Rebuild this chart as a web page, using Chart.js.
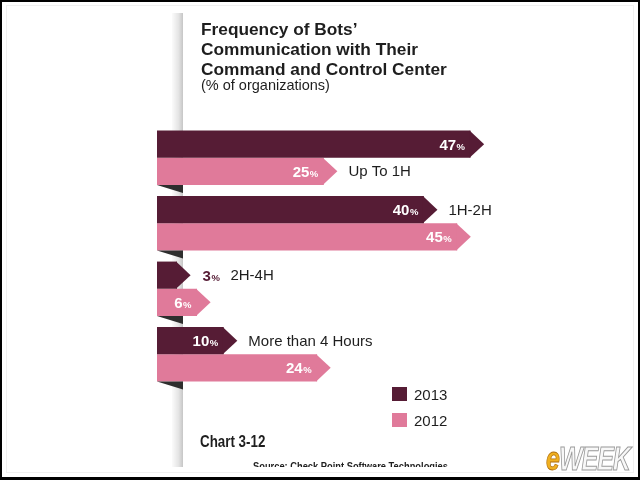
<!DOCTYPE html>
<html lang="en">
<head>
    <meta charset="UTF-8">
    <title>Frequency of Bots' Communication with Their Command and Control Center</title>
    <script src="https://cdn.jsdelivr.net/npm/chart.js"></script>
    <style>
        body { margin: 0; background: #fff; }
        #frame {
            position: relative; width: 640px; height: 480px; overflow: hidden;
            background: #fff; font-family: "Liberation Sans", Arial, sans-serif; color: #1e1e1e;
        }
        #frame .abs { position: absolute; white-space: nowrap; }
        #border {
            position: absolute; left: 0; top: 0; width: 636px; height: 475px;
            border: 2px solid #000; border-bottom-width: 3px;
        }
        #inner { position: absolute; left: 6px; top: 5px; width: 626px; height: 466px; border: 1px solid #f0f0f0; }
        #strip {
            position: absolute; left: 172px; top: 13px; width: 11px; height: 454px;
            background: linear-gradient(to right, #fbfbfb, #e4e4e4 60%, #c6c6c6);
        }
        #chart { position: absolute; left: 0; top: 0; }
        .title { font-weight: bold; font-size: 17.3px; line-height: 20px; left: 201px; top: 19px; }
        .sub { font-size: 14.5px; line-height: 17px; left: 201px; top: 77px; }
        .sw { width: 15px; height: 14px; }
        .lg { font-size: 15px; line-height: 17px; }
        .note { font-weight: bold; transform: scaleX(0.81); transform-origin: left top; }
        #logo {
            left: 546px; top: 440px; font-size: 25px; font-weight: 900; font-style: italic;
            transform: scaleY(1.3); transform-origin: top left; letter-spacing: -1px;
        }
    </style>
</head>
<body>
<div id="frame">
    <div id="inner"></div>
    <div id="strip"></div>
    <canvas id="chart" width="640" height="480"></canvas>

    <div class="abs title">Frequency of Bots’<br>Communication with Their<br>Command and Control Center</div>
    <div class="abs sub">(% of organizations)</div>

    <div class="abs sw" style="left:392px; top:387px; background:#561c35;"></div>
    <div class="abs lg" style="left:414px; top:386px;">2013</div>
    <div class="abs sw" style="left:392px; top:413px; background:#e07a9a;"></div>
    <div class="abs lg" style="left:414px; top:412px;">2012</div>

    <div class="abs note" style="left:200px; top:432px; font-size:16.5px; line-height:18px;">Chart 3-12</div>
    <div class="abs" style="left:253px; top:455px; height:12px; overflow:hidden;">
        <div class="note" style="position:relative; top:5px; font-size:11.5px; line-height:12px;">Source: Check Point Software Technologies</div>
    </div>

    <div class="abs" id="logo"><span style="color:#f0b020; -webkit-text-stroke:0.6px #b07010;">e</span><span style="color:#f8f8f8; -webkit-text-stroke:0.8px #9a9a9a;">WEEK</span></div>
    <div id="border"></div>
</div>

<script>
    // data
    const categories = ['Up To 1H', '1H-2H', '2H-4H', 'More than 4 Hours'];
    const years = ['2013', '2012'];
    const values2013 = [47, 40, 3, 10];
    const values2012 = [25, 45, 6, 24];

    const darkColor = '#561c35';
    const pinkColor = '#e07a9a';

    // arrow tips, folds and labels drawn on top of the plain bars
    const ribbonPlugin = {
        id: 'ribbon',
        afterDatasetsDraw(chart) {
            const ctx = chart.ctx;
            const xScale = chart.scales.x;
            const zero = xScale.getPixelForValue(0);
            const metas = [chart.getDatasetMeta(0), chart.getDatasetMeta(1)];

            ctx.save();
            // arrow heads
            metas.forEach((meta, i) => {
                ctx.fillStyle = chart.data.datasets[i].backgroundColor;
                meta.data.forEach(bar => {
                    const h = bar.height;
                    ctx.beginPath();
                    ctx.moveTo(bar.x - 1, bar.y - h / 2);
                    ctx.lineTo(bar.x + h / 2, bar.y);
                    ctx.lineTo(bar.x - 1, bar.y + h / 2);
                    ctx.closePath();
                    ctx.fill();
                });
            });

            // folds under each group
            metas[1].data.forEach(bar => {
                const bottom = bar.y + bar.height / 2;
                ctx.fillStyle = '#2e2e2e';
                ctx.beginPath();
                ctx.moveTo(zero, bottom);
                ctx.lineTo(zero + 26, bottom);
                ctx.lineTo(zero + 26, bottom + 8);
                ctx.closePath();
                ctx.fill();
            });

            // value labels
            const numFont = 'bold 15px "Liberation Sans", Arial, sans-serif';
            const pctFont = 'bold 9.5px "Liberation Sans", Arial, sans-serif';
            const ends = metas.map(() => []);
            metas.forEach((meta, i) => {
                const data = chart.data.datasets[i].data;
                meta.data.forEach((bar, j) => {
                    const num = String(data[j]);
                    ctx.font = numFont;
                    const w1 = ctx.measureText(num).width;
                    ctx.font = pctFont;
                    const w2 = ctx.measureText('%').width;
                    const inside = bar.x - zero > 30;
                    const x0 = inside ? bar.x - 6 - w1 - w2 : bar.x + bar.height / 2 + 12;
                    const base = bar.y + 5.5;
                    ctx.fillStyle = inside ? '#ffffff' : darkColor;
                    ctx.textBaseline = 'alphabetic';
                    ctx.textAlign = 'left';
                    ctx.font = numFont;
                    ctx.fillText(num, x0, base);
                    ctx.font = pctFont;
                    ctx.fillText('%', x0 + w1 + 0.5, base);
                    ends[i][j] = inside ? bar.x + bar.height / 2 : x0 + w1 + w2;
                });
            });

            // category labels next to the shorter bar of each group
            ctx.font = '15px "Liberation Sans", Arial, sans-serif';
            ctx.fillStyle = '#1e1e1e';
            ctx.textBaseline = 'middle';
            categories.forEach((cat, j) => {
                const k = values2013[j] <= values2012[j] ? 0 : 1;
                const bar = metas[k].data[j];
                ctx.fillText(cat, ends[k][j] + 11, bar.y + 1);
            });
            ctx.restore();
        }
    };

    new Chart(document.getElementById('chart'), {
        type: 'bar',
        data: {
            labels: categories,
            datasets: [
                { label: years[0], data: values2013, backgroundColor: darkColor },
                { label: years[1], data: values2012, backgroundColor: pinkColor }
            ]
        },
        options: {
            indexAxis: 'y',
            responsive: false,
            animation: false,
            categoryPercentage: 0.83,
            barPercentage: 1,
            layout: { padding: { left: 157, right: 16, top: 125, bottom: 93 } },
            scales: {
                x: { display: false, min: 0, max: 70 },
                y: { display: false }
            },
            plugins: {
                legend: { display: false },
                tooltip: { enabled: false }
            }
        },
        plugins: [ribbonPlugin]
    });
</script>
</body>
</html>
